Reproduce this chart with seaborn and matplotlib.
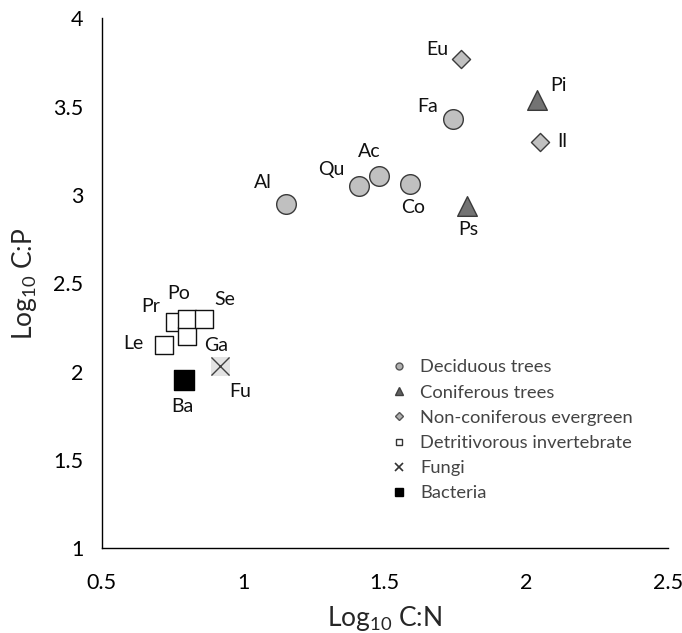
import matplotlib
matplotlib.use("Agg")
import matplotlib.pyplot as plt
from matplotlib.lines import Line2D
import seaborn as sns
import pandas as pd

# ---- data: log10 C:N and log10 C:P for each taxon ----
deciduous_names = ["Al", "Qu", "Ac", "Co", "Fa"]
deciduous_cn = [1.15, 1.41, 1.48, 1.59, 1.74]
deciduous_cp = [2.95, 3.05, 3.11, 3.06, 3.43]

conifer_names = ["Pi", "Ps"]
conifer_cn = [2.04, 1.79]
conifer_cp = [3.54, 2.94]

evergreen_names = ["Eu", "Il"]
evergreen_cn = [1.77, 2.05]
evergreen_cp = [3.77, 3.30]

detritivore_names = ["Le", "Pr", "Ga", "Po", "Se"]
detritivore_cn = [0.72, 0.76, 0.80, 0.80, 0.86]
detritivore_cp = [2.15, 2.28, 2.20, 2.30, 2.30]

fungi_names = ["Fu"]
fungi_cn = [0.92]
fungi_cp = [2.03]

bacteria_names = ["Ba"]
bacteria_cn = [0.79]
bacteria_cp = [1.95]

group_labels = ["Deciduous trees", "Coniferous trees", "Non-coniferous evergreen",
                "Detritivorous invertebrate", "Fungi", "Bacteria"]

x_ticks = [0.5, 1, 1.5, 2, 2.5]
x_tick_labels = ["0.5", "1", "1.5", "2", "2.5"]
y_ticks = [1, 1.5, 2, 2.5, 3, 3.5, 4]
y_tick_labels = ["1", "1.5", "2", "2.5", "3", "3.5", "4"]

# label offsets (points) for each point's name
label_offsets = {
    "Al": (-16, 15), "Qu": (-20, 12), "Ac": (-7, 17), "Co": (2, -17), "Fa": (-18, 9),
    "Eu": (-17, 7), "Pi": (15, 10), "Il": (16, 0), "Ps": (1, -17),
    "Le": (-22, 1), "Pr": (-18, 11), "Po": (-6, 18), "Se": (15, 14), "Ga": (21, -7),
    "Ba": (-1, -19), "Fu": (14, -18),
}

sns.set_style("white")
plt.rcParams["font.family"] = ["Lato", "DejaVu Sans"]
plt.rcParams["mathtext.fontset"] = "custom"
plt.rcParams["mathtext.rm"] = "Lato"
plt.rcParams["mathtext.it"] = "Lato"

fig, ax = plt.subplots(figsize=(6.82, 6.33), dpi=100)
fig.subplots_adjust(left=0.149, right=0.979, top=0.971, bottom=0.134)

def frame(names, xs, ys):
    return pd.DataFrame({"name": names, "cn": xs, "cp": ys})

edge = "#3a3a3a"
sns.scatterplot(data=frame(deciduous_names, deciduous_cn, deciduous_cp), x="cn", y="cp",
                marker="o", s=200, color="#c0c0c0", edgecolor=edge, linewidth=1, ax=ax, zorder=3)
sns.scatterplot(data=frame(conifer_names, conifer_cn, conifer_cp), x="cn", y="cp",
                marker="^", s=200, color="#737373", edgecolor=edge, linewidth=1, ax=ax, zorder=3)
sns.scatterplot(data=frame(evergreen_names, evergreen_cn, evergreen_cp), x="cn", y="cp",
                marker="D", s=85, color="#c0c0c0", edgecolor=edge, linewidth=1, ax=ax, zorder=3)
sns.scatterplot(data=frame(detritivore_names, detritivore_cn, detritivore_cp), x="cn", y="cp",
                marker="s", s=160, color="white", edgecolor="#111111", linewidth=1, ax=ax, zorder=3)
sns.scatterplot(data=frame(fungi_names, fungi_cn, fungi_cp), x="cn", y="cp",
                marker="s", s=190, color="#e3e3e3", edgecolor="none", linewidth=0, ax=ax, zorder=3)
sns.scatterplot(data=frame(fungi_names, fungi_cn, fungi_cp), x="cn", y="cp",
                marker="x", s=170, color="#404040", linewidth=1, ax=ax, zorder=4)
sns.scatterplot(data=frame(bacteria_names, bacteria_cn, bacteria_cp), x="cn", y="cp",
                marker="s", s=190, color="black", edgecolor="black", linewidth=1, ax=ax, zorder=3)

all_names = (deciduous_names + conifer_names + evergreen_names + detritivore_names
             + fungi_names + bacteria_names)
all_cn = deciduous_cn + conifer_cn + evergreen_cn + detritivore_cn + fungi_cn + bacteria_cn
all_cp = deciduous_cp + conifer_cp + evergreen_cp + detritivore_cp + fungi_cp + bacteria_cp
for n, xv, yv in zip(all_names, all_cn, all_cp):
    ax.annotate(n, (xv, yv), xytext=label_offsets[n], textcoords="offset points",
                ha="center", va="center", fontsize=14, color="#111111")

ax.set_xlim(0.5, 2.5)
ax.set_ylim(1, 4)
ax.set_xticks(x_ticks)
ax.set_xticklabels(x_tick_labels)
ax.set_yticks(y_ticks)
ax.set_yticklabels(y_tick_labels)
ax.tick_params(axis="both", direction="out", length=5, width=1, colors="black",
               labelsize=15.5, pad=13)
ax.tick_params(axis="y", pad=8)
sns.despine(ax=ax)
for sp in ("left", "bottom"):
    ax.spines[sp].set_color("black")
    ax.spines[sp].set_linewidth(1)

ax.set_xlabel(r"Log$_{\mathregular{10}}$ C:N", fontsize=19, labelpad=8)
ax.set_ylabel(r"Log$_{\mathregular{10}}$ C:P", fontsize=19, labelpad=10)

legend_color = "#444444"
handles = [
    Line2D([], [], ls="none", marker="o", ms=5, mfc="#b0b0b0", mec="#555555"),
    Line2D([], [], ls="none", marker="^", ms=6, mfc="#606060", mec="#404040"),
    Line2D([], [], ls="none", marker="D", ms=4, mfc="#b0b0b0", mec="#555555"),
    Line2D([], [], ls="none", marker="s", ms=5, mfc="white", mec="#333333"),
    Line2D([], [], ls="none", marker="x", ms=6, mec="#333333", mew=1.2),
    Line2D([], [], ls="none", marker="s", ms=6, mfc="black", mec="black"),
]
leg = ax.legend(handles, group_labels, loc="upper left", bbox_to_anchor=(0.50, 0.37),
                frameon=False, fontsize=13.2, handlelength=0.8, handletextpad=0.75,
                labelspacing=0.5, borderaxespad=0)
for t in leg.get_texts():
    t.set_color(legend_color)

fig.savefig("out.png", dpi=100)
